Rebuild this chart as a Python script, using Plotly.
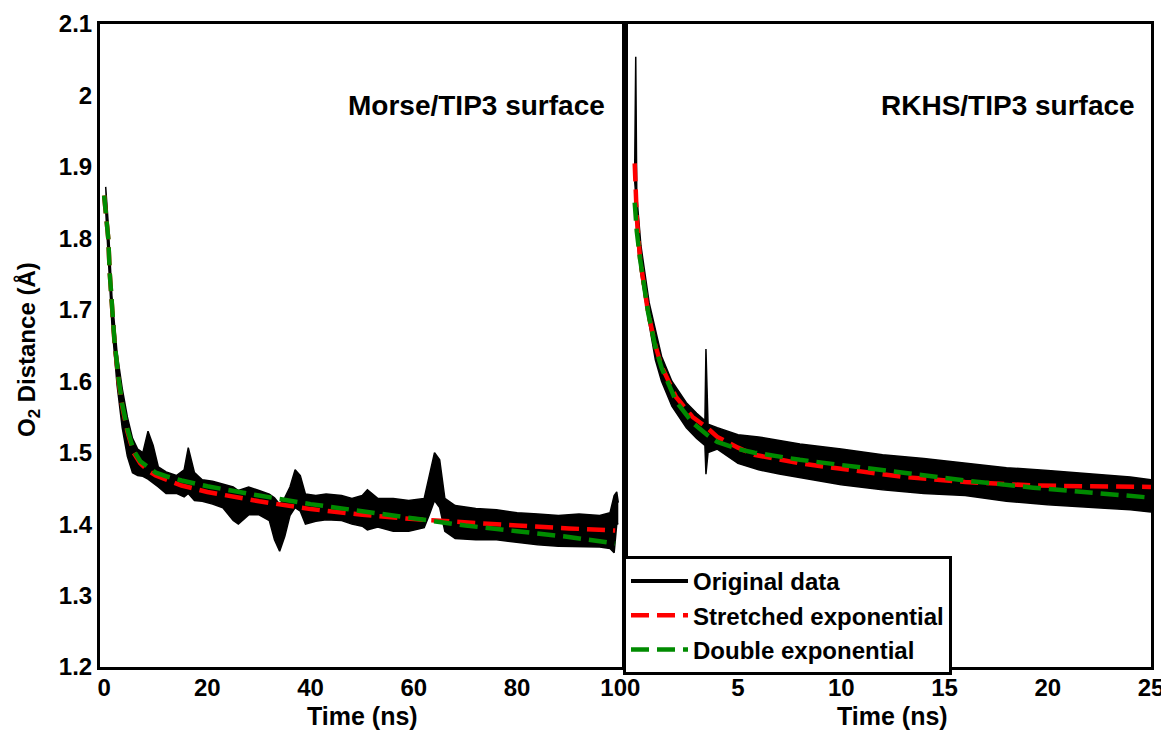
import plotly.graph_objects as go

# ---- left panel: Morse/TIP3 surface (time in ns, distance in Angstrom) ----
# envelope of the noisy original trajectory (upper / lower edge of the black band)
morse_t = [0.3, 0.8, 1.5, 2.5, 3.5, 4.5, 5.5, 6.5, 7.5, 8.5, 9.5, 10.5, 12, 14, 15.5, 16.3,
           17.5, 19, 21, 23, 25, 26, 28, 30, 32, 33, 34, 35, 36, 37, 38, 39, 41, 43, 46,
           48, 50, 51, 53, 56, 59, 62, 63, 64, 65, 66, 68, 72, 76, 80, 84, 88, 92, 96,
           98, 98.8, 99.3, 99.6]
morse_hi = [1.872, 1.82, 1.72, 1.64, 1.59, 1.55, 1.52, 1.505, 1.50, 1.53, 1.51, 1.48, 1.473,
            1.468, 1.476, 1.507, 1.472, 1.462, 1.46, 1.456, 1.452, 1.447, 1.452, 1.447, 1.442,
            1.437, 1.428, 1.437, 1.452, 1.476, 1.468, 1.442, 1.44, 1.442, 1.44, 1.436, 1.44,
            1.448, 1.436, 1.436, 1.433, 1.436, 1.47, 1.50, 1.49, 1.436, 1.426, 1.422, 1.42,
            1.416, 1.414, 1.412, 1.414, 1.412, 1.416, 1.44, 1.445, 1.43]
morse_lo = [1.84, 1.78, 1.68, 1.595, 1.535, 1.495, 1.472, 1.468, 1.467, 1.463, 1.458, 1.452,
            1.443, 1.443, 1.438, 1.443, 1.433, 1.432, 1.428, 1.423, 1.405, 1.40, 1.413, 1.413,
            1.405, 1.378, 1.362, 1.383, 1.412, 1.423, 1.418, 1.40, 1.404, 1.406, 1.405, 1.40,
            1.397, 1.392, 1.396, 1.39, 1.39, 1.395, 1.413, 1.433, 1.423, 1.39, 1.38, 1.378,
            1.378, 1.374, 1.371, 1.369, 1.369, 1.368, 1.366, 1.36, 1.40, 1.40]

# fitted curves
morse_fit_t = [0, 0.4, 0.8, 1.1, 1.5, 2, 2.8, 3.5, 4.5, 5.7, 7, 8.5, 10, 12, 15, 20, 25, 30,
               40, 50, 60, 70, 80, 90, 99]
morse_stretched = [1.86, 1.83, 1.80, 1.75, 1.70, 1.655, 1.60, 1.565, 1.53, 1.50, 1.485, 1.475,
                   1.468, 1.462, 1.454, 1.445, 1.438, 1.432, 1.421, 1.413, 1.407, 1.402,
                   1.398, 1.394, 1.391]
morse_double = [1.86, 1.83, 1.80, 1.75, 1.70, 1.657, 1.603, 1.568, 1.533, 1.503, 1.488, 1.479,
                1.472, 1.467, 1.461, 1.453, 1.446, 1.440, 1.428, 1.418, 1.408, 1.398, 1.390,
                1.382, 1.373]

# ---- right panel: RKHS/TIP3 surface ----
rkhs_t = [0, 0.05, 0.1, 0.3, 0.7, 1.0, 1.3, 1.8, 2.5, 3.0, 3.4, 3.45, 3.55, 4, 5, 6, 7, 8,
          10, 12, 14, 16, 18, 20, 22, 24, 25]
rkhs_hi = [1.90, 2.054, 1.86, 1.79, 1.71, 1.67, 1.635, 1.60, 1.57, 1.555, 1.545, 1.645, 1.54,
           1.535, 1.525, 1.522, 1.517, 1.512, 1.505, 1.497, 1.492, 1.486, 1.479, 1.475,
           1.47, 1.466, 1.462]
rkhs_lo = [1.88, 1.86, 1.80, 1.75, 1.68, 1.63, 1.60, 1.565, 1.535, 1.52, 1.51, 1.47, 1.50,
           1.505, 1.485, 1.476, 1.47, 1.465, 1.455, 1.448, 1.443, 1.44, 1.432, 1.427,
           1.424, 1.42, 1.417]

rkhs_fit_t = [0, 0.1, 0.26, 0.45, 0.65, 1.0, 1.3, 2.0, 2.8, 3.5, 4, 5, 5.8, 8, 10.8, 13, 16,
              19.3, 22, 25]
rkhs_stretched = [1.905, 1.83, 1.771, 1.73, 1.696, 1.65, 1.621, 1.578, 1.55, 1.535, 1.522,
                  1.507, 1.497, 1.485, 1.474, 1.466, 1.459, 1.454, 1.453, 1.452]
rkhs_double = [1.85, 1.81, 1.771, 1.73, 1.696, 1.648, 1.619, 1.572, 1.542, 1.525, 1.515,
               1.505, 1.500, 1.490, 1.480, 1.471, 1.461, 1.451, 1.444, 1.437]

y_ticks = [1.2, 1.3, 1.4, 1.5, 1.6, 1.7, 1.8, 1.9, 2.0, 2.1]
y_ticktext = ["1.2", "1.3", "1.4", "1.5", "1.6", "1.7", "1.8", "1.9", "2", "2.1"]
morse_xticks = [0, 20, 40, 60, 80, 100]
rkhs_xticks = [5, 10, 15, 20, 25]

RED = "#ff0000"
GREEN = "#008b00"
FONT = "Liberation Sans, Arial, sans-serif"
DASH = "18px,8px"

fig = go.Figure()

# original data as a black band between its upper and lower edges
fig.add_trace(go.Scatter(x=morse_t, y=morse_hi, mode="lines", showlegend=False,
                         line=dict(color="black", width=1.5), xaxis="x", yaxis="y"))
fig.add_trace(go.Scatter(x=morse_t, y=morse_lo, mode="lines", showlegend=False,
                         line=dict(color="black", width=1.5), fill="tonexty",
                         fillcolor="black", xaxis="x", yaxis="y"))
fig.add_trace(go.Scatter(x=rkhs_t, y=rkhs_hi, mode="lines", showlegend=False,
                         line=dict(color="black", width=1.5), xaxis="x2", yaxis="y2"))
fig.add_trace(go.Scatter(x=rkhs_t, y=rkhs_lo, mode="lines", showlegend=False,
                         line=dict(color="black", width=1.5), fill="tonexty",
                         fillcolor="black", xaxis="x2", yaxis="y2"))
# legend entry for the original data (thick line sample, no points)
fig.add_trace(go.Scatter(x=[None], y=[None], mode="lines", name="Original data",
                         line=dict(color="black", width=4), xaxis="x", yaxis="y"))

# fits
fig.add_trace(go.Scatter(x=morse_fit_t, y=morse_stretched, mode="lines", name="Stretched exponential",
                         line=dict(color=RED, width=4.5, dash=DASH), xaxis="x", yaxis="y"))
fig.add_trace(go.Scatter(x=rkhs_fit_t, y=rkhs_stretched, mode="lines", showlegend=False,
                         line=dict(color=RED, width=4.5, dash=DASH), xaxis="x2", yaxis="y2"))
fig.add_trace(go.Scatter(x=morse_fit_t, y=morse_double, mode="lines", name="Double exponential",
                         line=dict(color=GREEN, width=4.5, dash=DASH), xaxis="x", yaxis="y"))
fig.add_trace(go.Scatter(x=rkhs_fit_t, y=rkhs_double, mode="lines", showlegend=False,
                         line=dict(color=GREEN, width=4.5, dash=DASH), xaxis="x2", yaxis="y2"))

split = 525 / 1051
axis_common = dict(showline=True, linecolor="black", linewidth=3, mirror=True,
                   showgrid=False, zeroline=False, ticks="", automargin=False,
                   tickfont=dict(family=FONT, size=24, color="black", weight="bold"))

# page body adds an 8px offset, so the figure is 8px smaller than the window
fig.update_layout(
    width=1161, height=723,
    margin=dict(l=92, r=18, t=16, b=64),
    paper_bgcolor="white", plot_bgcolor="white",
    font=dict(family=FONT, color="black", weight="bold"),
    xaxis=dict(domain=[0, split], range=[-0.8, 100.9], tickvals=morse_xticks,
               anchor="y", ticklabelstandoff=-3, **axis_common),
    xaxis2=dict(domain=[split, 1], range=[-0.47, 25], tickvals=rkhs_xticks,
                anchor="y2", ticklabelstandoff=-3, **axis_common),
    yaxis=dict(range=[1.2, 2.1], tickvals=y_ticks, ticktext=y_ticktext, anchor="x",
               ticklabelstandoff=0, **axis_common),
    yaxis2=dict(range=[1.2, 2.1], matches="y", anchor="x2", showticklabels=False,
                **axis_common),
    showlegend=True,
    legend=dict(x=(623 - 100) / 1051, y=(667 - 556) / 643, xanchor="left", yanchor="top",
                bgcolor="white", bordercolor="black", borderwidth=3, traceorder="normal",
                itemwidth=57,
                font=dict(family=FONT, size=24, color="black", weight="bold"),
                tracegroupgap=0),
    annotations=[
        dict(text="Morse/TIP3 surface", x=(607 - 100) / 1051, y=(667 - 106) / 643,
             xref="paper", yref="paper", xanchor="right", yanchor="middle", showarrow=False,
             font=dict(family=FONT, size=28, color="black", weight="bold")),
        dict(text="RKHS/TIP3 surface", x=(1137 - 100) / 1051, y=(667 - 106) / 643,
             xref="paper", yref="paper", xanchor="right", yanchor="middle", showarrow=False,
             font=dict(family=FONT, size=28, color="black", weight="bold")),
        dict(text="Time (ns)", x=(362 - 100) / 1051, y=(667 - 716) / 643,
             xref="paper", yref="paper", xanchor="center", yanchor="middle", showarrow=False,
             font=dict(family=FONT, size=25, color="black", weight="bold")),
        dict(text="Time (ns)", x=(892 - 100) / 1051, y=(667 - 716) / 643,
             xref="paper", yref="paper", xanchor="center", yanchor="middle", showarrow=False,
             font=dict(family=FONT, size=25, color="black", weight="bold")),
        dict(text="O<sub>2</sub> Distance (Å)", x=(28 - 100) / 1051, y=(667 - 350) / 643,
             xref="paper", yref="paper", xanchor="center", yanchor="middle", showarrow=False,
             textangle=-90, font=dict(family=FONT, size=24, color="black", weight="bold")),
    ],
)

fig.write_html("out.html")
